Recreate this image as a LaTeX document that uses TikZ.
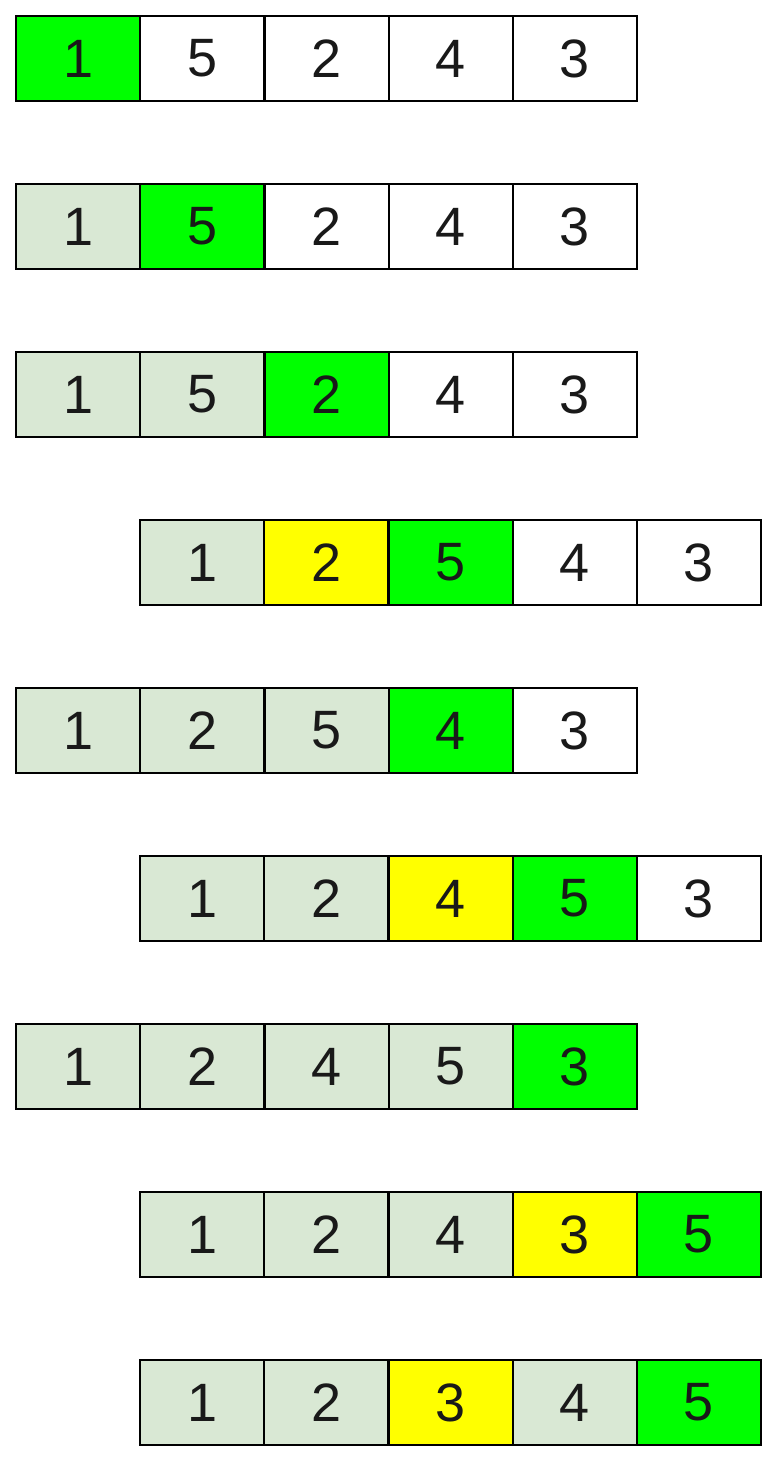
\documentclass[tikz,border=0pt]{standalone}
\usepackage{fontspec}
\setmainfont{Liberation Sans}
\definecolor{gr}{RGB}{0,255,0}
\definecolor{lg}{RGB}{217,232,212}
\definecolor{yl}{RGB}{255,255,0}
\definecolor{tx}{RGB}{25,25,25}
\tikzset{
  cell/.style={draw=black, line width=2.2pt, minimum width=124.2pt, minimum height=85pt,
    inner sep=0pt, outer sep=0pt, anchor=north west, text=tx,
    font=\fontsize{54}{60}\selectfont},
  W/.style={cell, fill=white},
  G/.style={cell, fill=gr},
  L/.style={cell, fill=lg},
  Y/.style={cell, fill=yl},
  frame/.style={draw=black, line width=2.8pt}
}
\newcommand{\cellrow}[3]{%
  \foreach \s/\t [count=\k] in {#3}{%
    \node[\s] (r#1c\k) at ({#2+(\k-1)*124.2pt}, {-16pt-(#1-1)*168pt}) {\t};
  }%
  \draw[frame] ({#2}, {-16pt-(#1-1)*168pt}) rectangle ++(621pt,-85pt);
}
\begin{document}
\begin{tikzpicture}[x=1pt,y=1pt]
\useasboundingbox (0,0) rectangle (775,-1461);
\fill[white] (0,0) rectangle (775,-1461);
\cellrow{1}{16pt}{G/1,W/5,W/2,W/4,W/3}
\cellrow{2}{16pt}{L/1,G/5,W/2,W/4,W/3}
\cellrow{3}{16pt}{L/1,L/5,G/2,W/4,W/3}
\cellrow{4}{140pt}{L/1,Y/2,G/5,W/4,W/3}
\cellrow{5}{16pt}{L/1,L/2,L/5,G/4,W/3}
\cellrow{6}{140pt}{L/1,L/2,Y/4,G/5,W/3}
\cellrow{7}{16pt}{L/1,L/2,L/4,L/5,G/3}
\cellrow{8}{140pt}{L/1,L/2,L/4,Y/3,G/5}
\cellrow{9}{140pt}{L/1,L/2,Y/3,L/4,G/5}
\end{tikzpicture}
\end{document}
